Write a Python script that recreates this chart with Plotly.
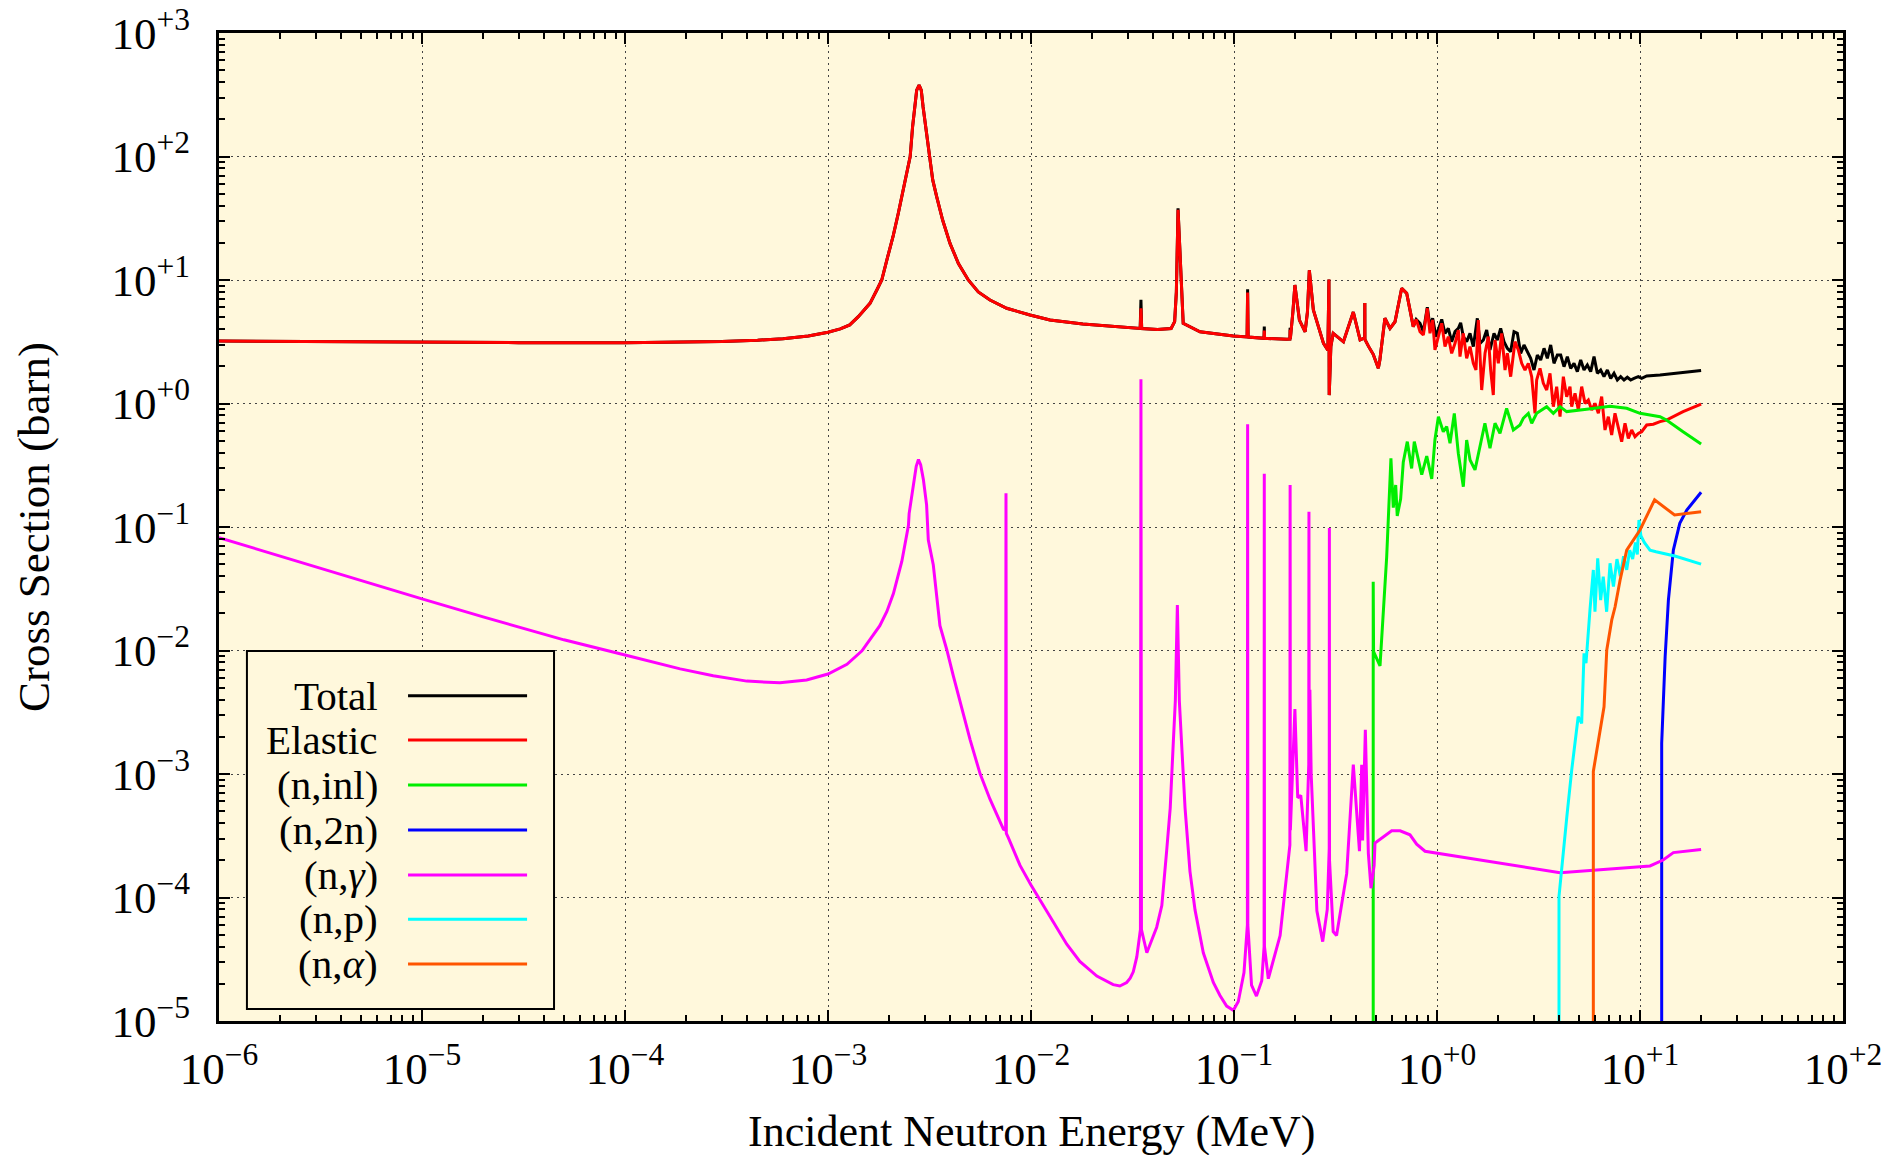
import plotly.graph_objects as go

# ---------------- data (energies in MeV, cross sections in barn) ----------------
# Elastic / Total below ~0.8 MeV (shared energy grid)
low_E = [1.0e-6, 3e-6, 1e-5, 3e-5, 1e-4, 2e-4, 3e-4, 4.5e-4, 6e-4, 8e-4,
         1.0e-3, 1.15e-3, 1.28e-3, 1.41e-3, 1.61e-3, 1.74e-3, 1.84e-3, 1.97e-3, 2.09e-3, 2.22e-3,
         2.35e-3, 2.44e-3, 2.54e-3, 2.61e-3, 2.69e-3, 2.735e-3, 2.81e-3, 2.88e-3, 2.94e-3, 3.03e-3,
         3.15e-3, 3.28e-3, 3.43e-3, 3.67e-3, 3.99e-3, 4.39e-3, 4.91e-3, 5.50e-3, 6.28e-3, 7.59e-3,
         9.89e-3, 0.0124, 0.018, 0.025, 0.0345, 0.0348, 0.0351, 0.042, 0.049, 0.051,
         0.052, 0.0526, 0.053, 0.0536, 0.0542, 0.0552, 0.0562, 0.068, 0.0993, 0.116,
         0.1167, 0.1174, 0.139, 0.1405, 0.141, 0.1415, 0.1815, 0.1885, 0.189, 0.1895,
         0.195, 0.1995, 0.21, 0.224, 0.230, 0.235, 0.246, 0.276, 0.290, 0.2935,
         0.2945, 0.300, 0.308, 0.346, 0.387, 0.418, 0.4405, 0.441, 0.4415, 0.46,
         0.485, 0.514, 0.523, 0.554, 0.587, 0.621, 0.670, 0.709, 0.735, 0.764,
         0.79]
low_el = [3.20, 3.16, 3.13, 3.11, 3.10, 3.12, 3.17, 3.25, 3.35, 3.52,
          3.78, 4.02, 4.33, 5.05, 6.47, 8.3, 10.0, 15.5, 22.4, 34.7,
          53.6, 73.0, 100.0, 174.0, 253.0, 345.0, 379.0, 345.0, 253.0, 174.0,
          100.0, 64.6, 47.3, 30.6, 19.8, 13.6, 10.0, 8.0, 6.89, 5.9,
          5.21, 4.74, 4.40, 4.20, 4.05, 5.9, 4.05, 3.97, 4.05, 4.6,
          8.0, 20.0, 37.0, 25.0, 16.6, 7.0, 4.46, 3.81, 3.52, 3.46,
          7.9, 3.45, 3.38, 3.37, 3.9, 3.37, 3.31, 3.32, 3.95, 3.35,
          5.5, 9.1, 4.74, 3.81, 5.5, 12.0, 5.71, 3.07, 2.7, 10.1,
          1.17, 2.9, 3.70, 3.16, 5.5, 3.27, 3.4, 6.5, 3.3, 2.9,
          2.5, 1.93, 2.25, 4.90, 4.06, 4.59, 8.57, 7.80, 5.8, 4.19,
          4.8]
low_tot = [3.20, 3.16, 3.13, 3.11, 3.10, 3.12, 3.17, 3.25, 3.35, 3.52,
           3.78, 4.02, 4.33, 5.05, 6.47, 8.3, 10.0, 15.5, 22.4, 34.7,
           53.6, 73.0, 100.0, 174.0, 253.0, 345.0, 379.0, 345.0, 253.0, 174.0,
           100.0, 64.6, 47.3, 30.6, 19.8, 13.6, 10.0, 8.0, 6.89, 5.9,
           5.21, 4.74, 4.40, 4.20, 4.05, 6.9, 4.05, 3.97, 4.05, 4.6,
           8.0, 20.0, 38.0, 25.0, 16.6, 7.0, 4.46, 3.81, 3.52, 3.46,
           8.4, 3.45, 3.38, 3.37, 4.19, 3.37, 3.31, 3.32, 4.1, 3.35,
           5.5, 9.1, 4.74, 3.81, 5.5, 12.0, 5.71, 3.07, 2.7, 10.1,
           1.17, 2.9, 3.70, 3.16, 5.5, 3.27, 3.4, 6.5, 3.3, 2.9,
           2.5, 1.93, 2.25, 4.90, 4.06, 4.59, 8.57, 7.80, 5.8, 4.19,
           4.8]

# Elastic above ~0.8 MeV
el_hi_E = [0.8246, 0.8565, 0.896, 0.9237, 0.952, 0.977, 1.015, 1.055, 1.095, 1.137,
           1.181, 1.227, 1.274, 1.298, 1.348, 1.400, 1.454, 1.510, 1.556, 1.598,
           1.660, 1.724, 1.790, 1.838, 1.894, 1.931, 2.005, 2.083, 2.163, 2.221,
           2.306, 2.422, 2.516, 2.613, 2.713, 2.818, 2.927, 3.039, 3.097, 3.217,
           3.341, 3.470, 3.603, 3.742, 3.886, 4.037, 4.192, 4.353, 4.521, 4.607,
           4.785, 4.970, 5.161, 5.360, 5.565, 5.781, 6.003, 6.234, 6.474, 6.724,
           6.982, 7.251, 7.531, 7.820, 8.122, 8.436, 8.761, 9.099, 9.449, 9.81,
           10.19, 10.79, 11.63, 12.55, 13.5, 16.3, 20.0]
el_hi = [3.817, 3.587, 5.896, 3.700, 4.745, 2.712, 3.477, 4.460, 2.886, 3.477,
         2.548, 3.071, 3.937, 2.395, 3.700, 2.321, 2.886, 2.115, 1.867, 4.745,
         1.286, 2.548, 3.477, 1.867, 1.172, 3.268, 2.115, 3.700, 1.867, 2.548,
         1.649, 3.168, 2.712, 2.115, 1.867, 2.115, 1.649, 0.833, 1.550, 1.927,
         1.457, 1.286, 1.755, 0.943, 1.369, 0.782, 1.649, 1.136, 1.369, 0.943,
         1.209, 0.886, 1.369, 1.003, 1.068, 0.886, 1.003, 0.833, 1.136, 0.610,
         0.782, 0.556, 0.833, 0.649, 0.491, 0.691, 0.522, 0.610, 0.539, 0.573,
         0.591, 0.670, 0.680, 0.713, 0.735, 0.86, 0.99]

# Total above ~0.8 MeV
tot_hi_E = [0.8246, 0.8565, 0.896, 0.9237, 0.952, 0.989, 1.027, 1.055, 1.095, 1.137,
            1.181, 1.227, 1.274, 1.308, 1.348, 1.400, 1.454, 1.510, 1.580, 1.629,
            1.692, 1.757, 1.824, 1.909, 1.983, 2.059, 2.138, 2.221, 2.306, 2.395,
            2.487, 2.583, 2.683, 2.786, 2.894, 3.005, 3.121, 3.241, 3.367, 3.496,
            3.631, 3.770, 3.916, 4.067, 4.224, 4.386, 4.555, 4.731, 4.913, 5.103,
            5.299, 5.503, 5.716, 5.936, 6.165, 6.402, 6.648, 6.905, 7.171, 7.447,
            7.734, 8.032, 8.341, 8.662, 8.996, 9.342, 9.81, 10.19, 10.79, 12.55,
            15.0, 20.0]
tot_hi = [4.460, 3.817, 6.008, 4.191, 4.894, 3.477, 4.325, 4.80, 3.700, 4.062,
          3.168, 3.817, 4.062, 4.51, 3.477, 3.168, 3.700, 2.886, 4.894, 3.071,
          3.268, 3.937, 2.712, 3.700, 3.268, 4.062, 3.168, 2.797, 2.629, 3.817,
          3.700, 2.548, 2.977, 2.629, 2.321, 1.867, 2.470, 2.250, 2.797, 2.321,
          2.977, 2.115, 2.470, 2.470, 1.987, 2.395, 1.927, 2.115, 1.811, 2.250,
          1.867, 2.050, 1.811, 2.395, 1.755, 1.867, 1.649, 1.867, 1.599, 1.755,
          1.550, 1.649, 1.550, 1.630, 1.550, 1.599, 1.649, 1.599, 1.670, 1.701,
          1.75, 1.85]

# (n,inl)
inl_E = [0.485, 0.485, 0.487, 0.524, 0.565, 0.593, 0.609, 0.626, 0.637, 0.662,
         0.682, 0.714, 0.750, 0.773, 0.841, 0.890, 0.942, 0.977, 1.016, 1.074,
         1.116, 1.159, 1.217, 1.274, 1.348, 1.40, 1.455, 1.539, 1.66, 1.722,
         1.824, 1.931, 2.043, 2.203, 2.377, 2.564, 2.661, 2.818, 2.928, 3.097,
         3.470, 3.742, 4.037, 4.353, 5.46, 7.12, 8.60, 10.0, 12.55, 13.5,
         16.3, 20.0]
inl = [1e-7, 0.0361, 9.8e-3, 7.5e-3, 0.0571, 0.360, 0.1435, 0.219, 0.123, 0.168,
       0.334, 0.491, 0.298, 0.491, 0.265, 0.375, 0.245, 0.509, 0.78, 0.59,
       0.65, 0.476, 0.83, 0.394, 0.212, 0.506, 0.349, 0.290, 0.506, 0.692,
       0.434, 0.692, 0.574, 0.914, 0.610, 0.670, 0.759, 0.832, 0.692, 0.833,
       0.943, 0.833, 0.943, 0.86, 0.90, 0.95, 0.914, 0.833, 0.782, 0.735,
       0.59, 0.47]

# (n,2n)
n2n_E = [12.79, 12.79, 13.3, 13.8, 14.6, 15.7, 17.0, 20.0]
n2n = [1e-7, 1.78e-3, 8.9e-3, 0.0256, 0.065, 0.107, 0.137, 0.191]

# (n,gamma)
cap_E = [1e-6, 2e-6, 5e-6, 1e-5, 2e-5, 5e-5, 1e-4, 1.87e-4, 2.72e-4, 3.98e-4,
         5.8e-4, 7.85e-4, 1.0e-3, 1.24e-3, 1.47e-3, 1.80e-3, 1.95e-3, 2.10e-3, 2.31e-3,
         2.49e-3, 2.51e-3, 2.63e-3, 2.72e-3, 2.79e-3, 2.86e-3, 2.95e-3, 3.06e-3, 3.12e-3, 3.30e-3,
         3.56e-3, 3.85e-3, 4.14e-3, 4.47e-3, 5.01e-3, 5.61e-3, 6.28e-3, 7.31e-3,
         7.50e-3, 7.53e-3, 7.56e-3, 7.73e-3, 8.83e-3, 9.98e-3, 0.0129, 0.0150, 0.0174, 0.0211,
         0.0254, 0.0274, 0.0296, 0.0308, 0.0319, 0.0332,
         0.0346, 0.0348, 0.0350, 0.0372, 0.0416, 0.0441, 0.0466, 0.0485, 0.0502, 0.0514,
         0.0526, 0.0538, 0.0552, 0.0574, 0.0607, 0.0643, 0.0706, 0.0791, 0.0853, 0.092,
         0.0993, 0.105, 0.112, 0.1164, 0.1167, 0.1170, 0.122, 0.129,
         0.137, 0.1407, 0.141, 0.1413, 0.1476, 0.1687, 0.182, 0.1885, 0.189, 0.1895,
         0.1995, 0.206, 0.2133, 0.2265, 0.2335, 0.234, 0.2345, 0.2365, 0.240, 0.256,
         0.2735, 0.288, 0.2945, 0.295, 0.2955, 0.308, 0.32, 0.359, 0.387, 0.415,
         0.4256, 0.43, 0.4436, 0.459, 0.473, 0.49, 0.495, 0.598, 0.658, 0.736,
         0.794, 0.873, 1.16, 4.04, 11.2, 13.0, 14.6, 20.0]
cap = [0.082, 0.058, 0.0367, 0.0262, 0.0187, 0.0122, 0.0092, 0.0071, 6.25e-3, 5.65e-3,
       5.47e-3, 5.77e-3, 6.45e-3, 7.73e-3, 9.95e-3, 0.0159, 0.0207, 0.0289, 0.0526,
       0.1026, 0.1285, 0.2275, 0.31, 0.352, 0.32, 0.243, 0.151, 0.0785, 0.0496,
       0.0159, 0.0101, 6.27e-3, 3.89e-3, 1.90e-3, 1.007e-3, 6.25e-4, 3.58e-4,
       3.5e-4, 0.188, 3.3e-4, 3.05e-4, 1.82e-4, 1.27e-4, 6.22e-5, 4.19e-5, 3.04e-5, 2.31e-5,
       1.97e-5, 1.92e-5, 2.05e-5, 2.22e-5, 2.5e-5, 3.30e-5,
       5.5e-5, 1.57, 5.5e-5, 3.57e-5, 5.75e-5, 8.6e-5, 2.40e-4, 5.3e-4, 1.76e-3, 3.9e-3,
       0.0233, 3.9e-3, 1.76e-3, 5.3e-4, 1.62e-4, 7.9e-5, 3.57e-5, 2.05e-5, 1.61e-5, 1.32e-5,
       1.22e-5, 1.44e-5, 2.47e-5, 6e-5, 0.68, 6e-5, 1.95e-5, 1.59e-5,
       2.12e-5, 4e-5, 0.27, 4e-5, 2.20e-5, 4.92e-5, 1.56e-4, 2.66e-4, 0.219, 3.5e-4,
       3.35e-3, 6.43e-4, 6.7e-4, 2.37e-4, 1.2e-3, 0.133, 3e-3, 4.8e-3, 1e-3, 7.8e-5,
       4.39e-5, 8e-5, 2.5e-4, 0.098, 2e-4, 5.3e-5, 4.92e-5, 1.56e-4, 1.19e-3, 2.37e-4,
       1.19e-3, 2.9e-4, 2.28e-3, 2.28e-4, 1.19e-4, 1.81e-4, 2.76e-4, 3.47e-4, 3.47e-4, 3.22e-4,
       2.70e-4, 2.37e-4, 2.20e-4, 1.59e-4, 1.80e-4, 2.01e-4, 2.31e-4, 2.45e-4]

# (n,p)
np_E = [3.99, 3.99, 4.36, 4.61, 4.96, 5.16, 5.30, 5.42, 5.67, 5.89,
        6.00, 6.19, 6.40, 6.59, 6.85, 7.12, 7.4, 7.7, 8.0, 8.3,
        8.6, 8.9, 9.2, 9.5, 9.7, 9.88, 10.1, 10.5, 11.2, 12.0,
        15.0, 20.0]
np_ = [1e-7, 1.02e-4, 4.5e-4, 1.08e-3, 2.91e-3, 2.57e-3, 9.5e-3, 7.9e-3, 0.0213, 0.0449,
       0.0206, 0.0557, 0.0256, 0.0396, 0.0206, 0.0508, 0.033, 0.055, 0.040, 0.058,
       0.045, 0.065, 0.055, 0.075, 0.06, 0.114, 0.085, 0.075, 0.065, 0.063,
       0.058, 0.05]

# (n,alpha)
na_E = [5.89, 5.89, 6.65, 6.86, 7.26, 7.54, 7.98, 8.6, 10.0, 11.8, 14.8, 20.0]
na = [1e-7, 1.05e-3, 3.5e-3, 0.0101, 0.0177, 0.0226, 0.0372, 0.065, 0.0946, 0.166, 0.125, 0.133]

series_names = ["Total", "Elastic", "(n,inl)", "(n,2n)", "(n,<i>γ</i>)", "(n,p)", "(n,<i>α</i>)"]
series_colors = ["#000000", "#ff0000", "#00ee00", "#0000ff", "#ff00ff", "#00ffff", "#ff5500"]

x_tickvals = [1e-6, 1e-5, 1e-4, 1e-3, 1e-2, 1e-1, 1e0, 1e1, 1e2]
x_ticktext = ["10<sup>−6</sup>", "10<sup>−5</sup>", "10<sup>−4</sup>", "10<sup>−3</sup>",
              "10<sup>−2</sup>", "10<sup>−1</sup>", "10<sup>+0</sup>", "10<sup>+1</sup>", "10<sup>+2</sup>"]
y_tickvals = [1e-5, 1e-4, 1e-3, 1e-2, 1e-1, 1e0, 1e1, 1e2, 1e3]
y_ticktext = ["10<sup>−5</sup>", "10<sup>−4</sup>", "10<sup>−3</sup>", "10<sup>−2</sup>",
              "10<sup>−1</sup>", "10<sup>+0</sup>", "10<sup>+1</sup>", "10<sup>+2</sup>", "10<sup>+3</sup>"]

# ---------------- figure ----------------
tot_E = low_E + tot_hi_E
tot = low_tot + tot_hi
el_E = low_E + el_hi_E
el = low_el + el_hi

curves = [(tot_E, tot), (el_E, el), (inl_E, inl), (n2n_E, n2n), (cap_E, cap), (np_E, np_), (na_E, na)]

fig = go.Figure()
for (xs, ys), name, col in zip(curves, series_names, series_colors):
    fig.add_trace(go.Scatter(x=xs, y=ys, mode="lines", name=name,
                             line=dict(color=col, width=3), showlegend=False))

FONT = "Liberation Serif, Times New Roman, serif"
BG = "#fff8dc"

minor_x = [k * 10.0 ** n for n in range(-6, 2) for k in range(2, 10)]
minor_y = [k * 10.0 ** n for n in range(-5, 3) for k in range(2, 10)]

axis_common = dict(type="log", showline=True, linewidth=3, linecolor="black", mirror="ticks",
                   ticks="inside", ticklen=11, tickwidth=2, tickcolor="black",
                   showgrid=True, gridcolor="#444444", gridwidth=1.4, griddash="2px,4px",
                   zeroline=False, automargin=False, ticklabeloverflow="allow",
                   tickfont=dict(family=FONT, size=45, color="black"))

fig.update_xaxes(range=[-6, 2], tickmode="array", tickvals=x_tickvals, ticktext=x_ticktext,
                 ticklabelstandoff=6,
                 minor=dict(tickmode="array", tickvals=minor_x, ticks="inside", ticklen=6,
                            tickwidth=1.5, tickcolor="black", showgrid=False),
                 **axis_common)
fig.update_yaxes(range=[-5, 3], tickmode="array", tickvals=y_tickvals, ticktext=y_ticktext,
                 ticklabelstandoff=17,
                 minor=dict(tickmode="array", tickvals=minor_y, ticks="inside", ticklen=6,
                            tickwidth=1.5, tickcolor="black", showgrid=False),
                 **axis_common)

# custom legend (text right-aligned, line sample to the right), in a boxed frame
shapes = [dict(type="rect", xref="paper", yref="paper", x0=0.0172, x1=0.2063, y0=0.0122, y1=0.3745,
               line=dict(color="black", width=2), fillcolor=BG, layer="above")]
annotations = []
row_y = [0.3293, 0.2844, 0.2389, 0.1933, 0.1478, 0.1029, 0.0577]
for name, col, yy in zip(series_names, series_colors, row_y):
    shapes.append(dict(type="line", xref="paper", yref="paper", x0=0.1164, x1=0.1897, y0=yy, y1=yy,
                       line=dict(color=col, width=3), layer="above"))
    annotations.append(dict(text=name, xref="paper", yref="paper", x=0.0991, y=yy,
                            xanchor="right", yanchor="middle", showarrow=False,
                            font=dict(family=FONT, size=41, color="black")))

annotations.append(dict(text="Incident Neutron Energy (MeV)", xref="paper", yref="paper",
                        x=0.5, y=0, xanchor="center", yanchor="middle", yshift=-110,
                        showarrow=False, font=dict(family=FONT, size=44, color="black")))
annotations.append(dict(text="Cross Section (barn)", xref="paper", yref="paper",
                        x=0, y=0.5, xanchor="center", yanchor="middle", xshift=-185,
                        textangle=-90, showarrow=False,
                        font=dict(family=FONT, size=45, color="black")))

# the page body has an 8 px margin, so the figure is 8 px smaller and margins shifted
fig.update_layout(width=1883, height=1147, autosize=False,
                  margin=dict(l=211, r=48, t=25, b=134, autoexpand=False),
                  paper_bgcolor="white", plot_bgcolor=BG,
                  shapes=shapes, annotations=annotations, showlegend=False)

fig.write_html("out.html")
